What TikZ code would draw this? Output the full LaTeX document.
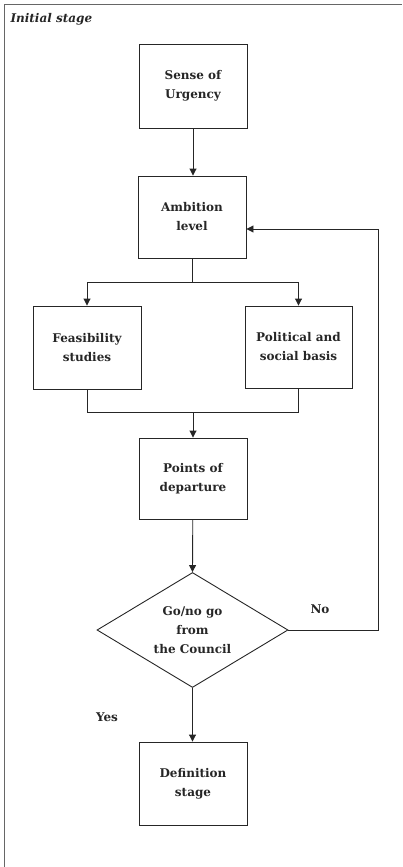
\documentclass[tikz,border=0pt]{standalone}
\usepackage{fontspec}
\setmainfont{DejaVu Serif}
\usetikzlibrary{shapes.geometric,arrows.meta}
\begin{document}
\begin{tikzpicture}[x=1pt,y=-1pt,
  every node/.style={font=\fontsize{12}{19}\selectfont\bfseries, text=black!85},
  stagebox/.style={draw=black!85, line width=0.9pt, minimum width=108pt,
    minimum height=82pt, align=center, inner sep=0pt},
  decision/.style={draw=black!85, line width=0.9pt, diamond, aspect=1.66,
    inner sep=0pt, minimum width=191pt, minimum height=115pt, align=center},
  flow/.style={draw=black!85, line width=0.9pt,
    -{Triangle[length=7pt,width=7pt]}},
  line/.style={draw=black!85, line width=0.9pt},
  frame/.style={draw=black!60, line width=0.8pt}]
\useasboundingbox (0,0) rectangle (402,867);

% frame of the stage
\draw[frame] (4,867) -- (4,4) -- (402,4);
\node[anchor=base west, font=\fontsize{12}{14}\selectfont\bfseries\itshape] (title) at (7,23) {Initial stage};

% process steps
\node[stagebox, minimum height=84pt] (sense) at (193,86) {Sense of\\Urgency};
\node[stagebox] (amb) at (192,217) {Ambition\\level};
\node[stagebox, minimum height=83pt] (feas) at (87,347.5) {Feasibility\\studies};
\node[stagebox, minimum width=107pt] (pol) at (298.5,347) {Political and\\social basis};
\node[stagebox, minimum height=81pt] (pts) at (193,478.5) {Points of\\departure};
\node[decision] (dec) at (192.5,630) {Go/no go\\from\\the Council};
\node[stagebox, minimum height=83pt] (def) at (193,783.5) {Definition\\stage};

\node (yes) at (107,717) {Yes};
\node (no) at (320,609) {No};

% connectors
\draw[flow] (sense) -- (sense.south |- amb.north);
\coordinate (split) at (192,282);
\draw[line] (amb.south) -- (split);
\draw[flow] (split) -| (feas.north);
\draw[flow] (split) -| (pol.north);
\coordinate (merge) at (193,412);
\draw[line] (feas.south) |- (merge);
\draw[line] (pol.south) |- (merge);
\draw[flow] (merge) -- (pts.north);
\draw[flow] (pts) -- (dec.north);
\draw[flow] (dec) -- (dec.south |- def.north);
\coordinate (loop) at (378,229);
\draw[flow] (dec.east) -| (loop) -- (loop -| amb.east);
\end{tikzpicture}
\end{document}
